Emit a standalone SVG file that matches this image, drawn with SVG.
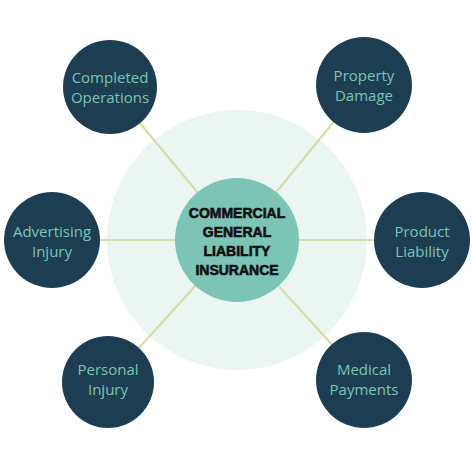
<svg xmlns="http://www.w3.org/2000/svg" width="474" height="474" viewBox="0 0 474 474">
<style>
.outer{fill:#1d3d53}
.lbl{font-family:"Open Sans","Liberation Sans",sans-serif;font-size:15px;fill:#7cc4b4;text-anchor:middle}
.ctr{font-family:"Liberation Sans",Arial,sans-serif;font-size:14px;font-weight:bold;fill:#111;stroke:#111;stroke-width:0.6;text-anchor:middle}
.conn{stroke:#d8dcab;stroke-width:2;fill:none}
</style>
<rect width="474" height="474" fill="#ffffff"/>
<circle cx="237" cy="240" r="130" fill="#ebf6f3"/>
<g id="connectors">
<line class="conn" x1="237" y1="240" x2="110" y2="87"/>
<line class="conn" x1="237" y1="240" x2="364" y2="85"/>
<line class="conn" x1="237" y1="240" x2="52" y2="240"/>
<line class="conn" x1="237" y1="240" x2="422" y2="240"/>
<line class="conn" x1="237" y1="240" x2="108" y2="382"/>
<line class="conn" x1="237" y1="240" x2="364" y2="380"/>
</g>
<g id="center">
<circle cx="237" cy="240" r="62" fill="#7cc4b4"/>
<text class="ctr" x="237" y="218">COMMERCIAL</text>
<text class="ctr" x="237" y="237">GENERAL</text>
<text class="ctr" x="237" y="256">LIABILITY</text>
<text class="ctr" x="237" y="275">INSURANCE</text>
</g>
<g id="completed-operations">
<circle class="outer" cx="110" cy="87" r="47"/>
<text class="lbl" x="110" y="83">Completed</text>
<text class="lbl" x="110" y="103">Operations</text>
</g>
<g id="property-damage">
<circle class="outer" cx="364" cy="85" r="48"/>
<text class="lbl" x="364" y="81">Property</text>
<text class="lbl" x="364" y="101">Damage</text>
</g>
<g id="advertising-injury">
<circle class="outer" cx="52" cy="240" r="48"/>
<text class="lbl" x="52" y="237">Advertising</text>
<text class="lbl" x="52" y="257">Injury</text>
</g>
<g id="product-liability">
<circle class="outer" cx="422" cy="240" r="48"/>
<text class="lbl" x="422" y="237">Product</text>
<text class="lbl" x="422" y="257">Liability</text>
</g>
<g id="personal-injury">
<circle class="outer" cx="108" cy="382" r="46"/>
<text class="lbl" x="108" y="375">Personal</text>
<text class="lbl" x="108" y="395">Injury</text>
</g>
<g id="medical-payments">
<circle class="outer" cx="364" cy="380" r="48"/>
<text class="lbl" x="364" y="375">Medical</text>
<text class="lbl" x="364" y="395">Payments</text>
</g>
</svg>
